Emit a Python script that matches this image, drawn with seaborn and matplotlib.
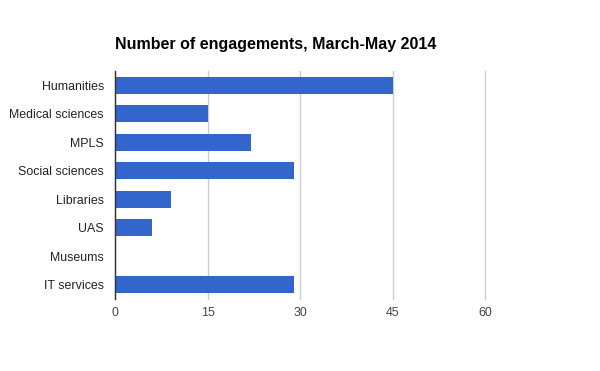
import pandas as pd
import matplotlib
matplotlib.use("Agg")
import matplotlib.pyplot as plt
import seaborn as sns

# data
categories = ["Humanities", "Medical sciences", "MPLS", "Social sciences",
              "Libraries", "UAS", "Museums", "IT services"]
engagements = [45, 15, 22, 29, 9, 6, 0, 29]
x_ticks = [0, 15, 30, 45, 60]

df = pd.DataFrame({"category": categories, "engagements": engagements})

sns.set_style("white")
plt.rcParams["font.family"] = ["Liberation Sans", "DejaVu Sans"]

fig = plt.figure(figsize=(6, 3.71), dpi=100)
ax = fig.add_axes([0.1917, 0.194, 0.6167, 0.6146])

sns.barplot(data=df, x="engagements", y="category", orient="h",
            color="#3366cc", saturation=1, width=0.6, linewidth=0, ax=ax)

ax.set_xlim(0, 60)
ax.set_xticks(x_ticks)
ax.set_xticklabels([str(t) for t in x_ticks])
ax.xaxis.grid(True, color="#cccccc", linewidth=1)
for gl in ax.get_xgridlines():
    gl.set_clip_on(False)
ax.set_axisbelow(True)
for s in ["top", "right", "bottom"]:
    ax.spines[s].set_visible(False)
ax.spines["left"].set_color("#333333")
ax.spines["left"].set_linewidth(1)
ax.tick_params(axis="both", length=0)
ax.tick_params(axis="y", pad=8, labelsize=8.9, labelcolor="#222222")
ax.tick_params(axis="x", pad=6, labelsize=8.9, labelcolor="#444444")
ax.set_xlabel("")
ax.set_ylabel("")

fig.text(0.1917, 1 - 45 / 371, "Number of engagements, March-May 2014",
         fontsize=11.5, fontweight="bold", color="#000000", va="center", ha="left")

fig.savefig("out.png", dpi=100)
